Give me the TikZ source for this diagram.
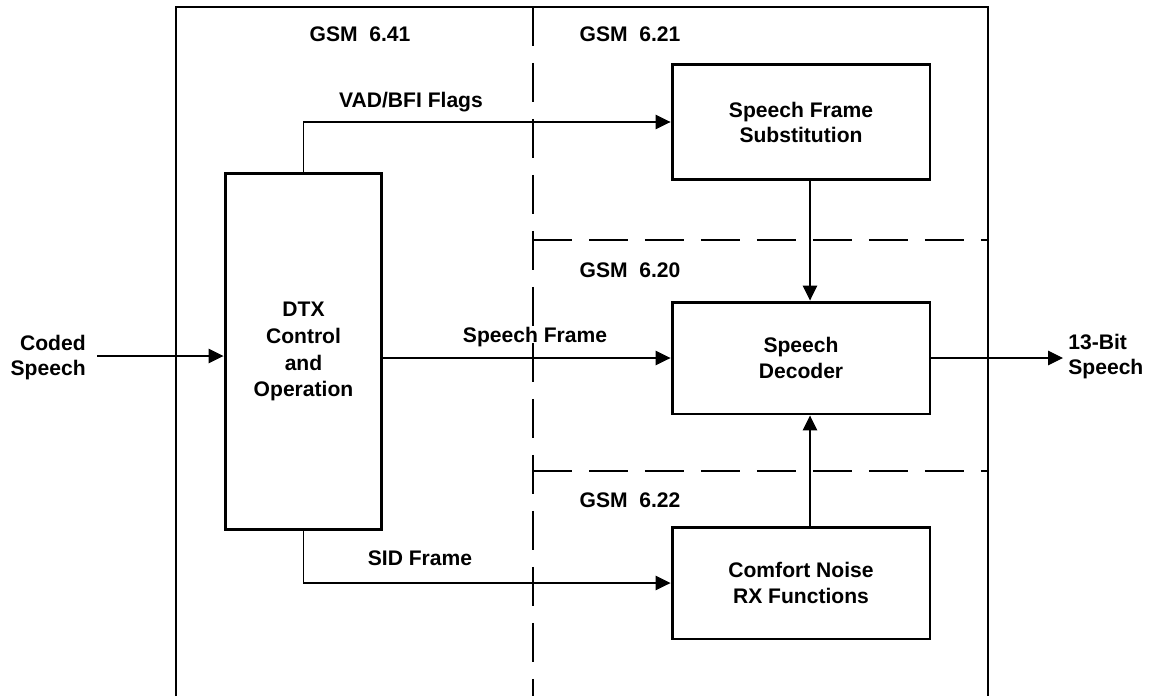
\documentclass[tikz,border=0pt]{standalone}
\usepackage{fontspec}
\setmainfont{Liberation Sans}
\usetikzlibrary{positioning, arrows.meta}

\begin{document}
\begin{tikzpicture}[
      x=0.02cm, y=-0.02cm,
      font=\fontsize{12}{14.2}\selectfont\bfseries,
      box/.style={draw, line width=1.7pt, align=center, minimum width=5.16cm, minimum height=2.24cm, inner sep=0pt},
      wide/.style={font=\fontsize{12}{15.3}\selectfont\bfseries},
      lbl/.style={anchor=base, inner sep=0pt},
      flow/.style={-{Triangle[length=0.3cm, width=0.29cm]}, line width=0.6pt},
      part/.style={dash pattern=on 0.78cm off 0.34cm, line width=0.6pt}
    ]
    \useasboundingbox (0,0) rectangle (1151,696);
    \draw[line width=1.2pt] (176,696) |- (988,7) -- (988,696);
    \draw[part] (533,7) -- (533,696);
    \draw[part] (533,240) -- (988,240);
    \draw[part] (533,471) -- (988,471);

    \node[box, wide, minimum width=3.14cm, minimum height=7.14cm] (dtx) at (303.5,351.5) {DTX\\Control\\and\\Operation};
    \node[box, minimum height=2.32cm] (sfs) at (801,122) {Speech Frame\\Substitution};
    \node[box, wide] (dec) at (801,358) {Speech\\Decoder};
    \node[box, wide] (cn) at (801,583) {Comfort Noise\\RX Functions};

    \node[lbl] (g641) at (360,42) {GSM\ \ 6.41};
    \node[lbl] (g621) at (630,42) {GSM\ \ 6.21};
    \node[lbl] (g620) at (630,277) {GSM\ \ 6.20};
    \node[lbl] (g622) at (630,507) {GSM\ \ 6.22};
    \node[lbl] (vad) at (411,108) {VAD/BFI Flags};
    \node[lbl] (sfr) at (535,342) {Speech Frame};
    \node[lbl] (sid) at (420,565) {SID Frame};
    \node[align=right, anchor=east, inner sep=0pt] (coded) at (86,358) {Coded\\Speech};
    \node[align=left, anchor=west, inner sep=0pt] (pcm) at (1068,357) {13-Bit\\Speech};

    \coordinate (cin) at (97,356);
    \coordinate (cout) at (1063,358);
    \coordinate (tap) at (810,0);

    \draw[flow] (cin) -- (cin -| dtx.west);
    \draw[flow] (dtx.north) |- (sfs.west);
    \draw[flow] (dtx.east |- dec.west) -- (dec.west);
    \draw[flow] (dtx.south) |- (cn.west);
    \draw[flow] (sfs.south -| tap) -- (dec.north -| tap);
    \draw[flow] (cn.north -| tap) -- (dec.south -| tap);
    \draw[flow] (dec.east) -- (cout);
  \end{tikzpicture}
\end{document}
